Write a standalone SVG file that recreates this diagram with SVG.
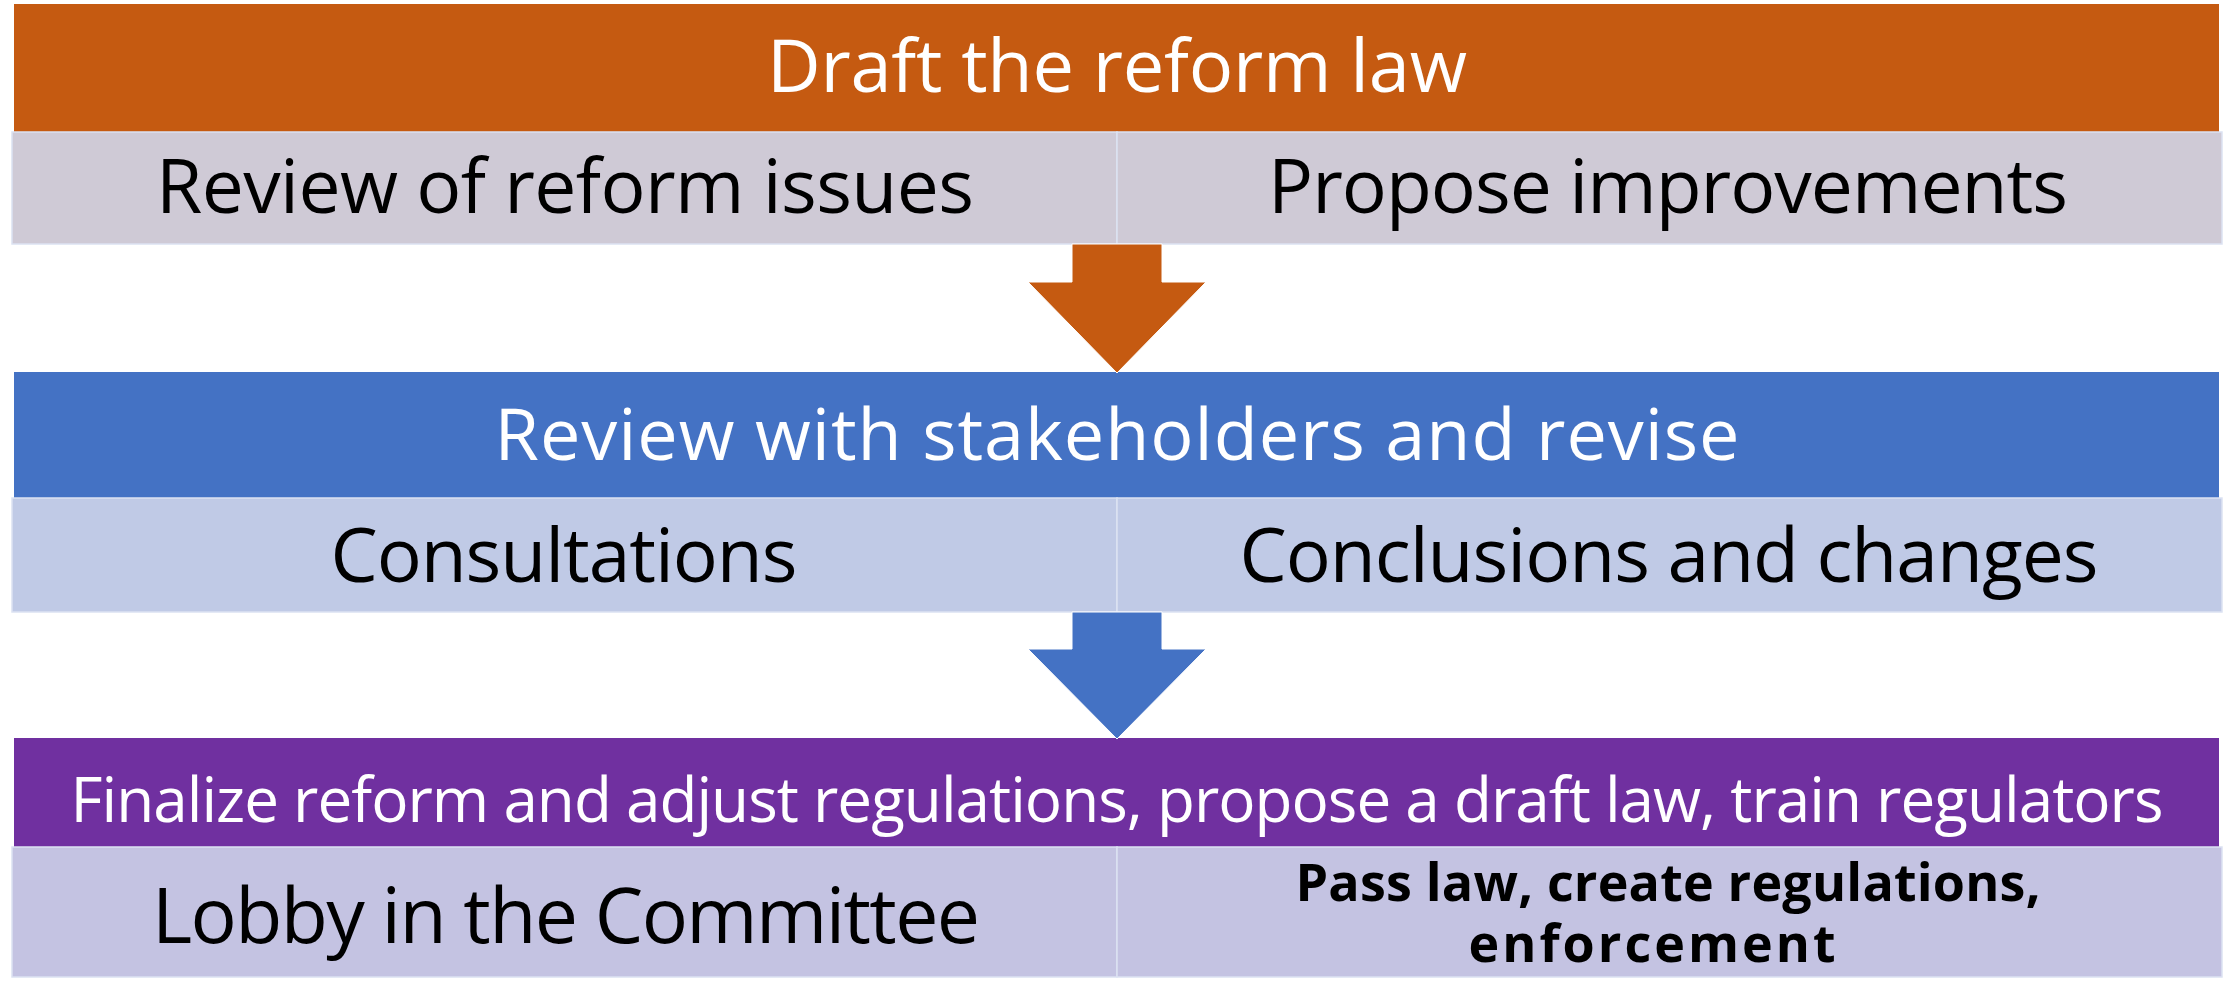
<svg xmlns="http://www.w3.org/2000/svg" width="2226" height="981" viewBox="0 0 2226 981">
  <style>
    .t { font-family: "Open Sans", "Noto Sans", "Liberation Sans", sans-serif; text-anchor: middle; }
    .head { fill: #FFFFFF; }
    .cell-t { fill: #000000; }
    .cell { stroke: #DCE2F2; stroke-width: 1.5; }
    .c1 { fill: #CFCAD6; }
    .c2 { fill: #C0CAE6; }
    .c3 { fill: #C4C3E2; }
    .bold { font-weight: 700; }
    .arrow { stroke: #FFFFFF; stroke-width: 1; }
  </style>
  <rect width="2226" height="981" fill="#FFFFFF"/>

  <!-- stage 1 -->
  <g id="draft-law">
    <rect x="14" y="4" width="2205" height="128" fill="#C55A11"/>
    <text class="t head" x="1117" y="92" font-size="74" textLength="700">Draft the reform law</text>
  </g>
  <g id="review-issues">
    <rect class="cell c1" x="12" y="132" width="1105" height="112"/>
    <text class="t cell-t" x="565" y="213" font-size="75" textLength="818">Review of reform issues</text>
  </g>
  <g id="propose-improvements">
    <rect class="cell c1" x="1117" y="132" width="1105" height="112"/>
    <text class="t cell-t" x="1668" y="213" font-size="75" textLength="800">Propose improvements</text>
  </g>

  <!-- stage 2 -->
  <g id="stakeholder-review">
    <rect x="14" y="372" width="2205" height="126" fill="#4472C4"/>
    <text class="t head" x="1117" y="460" font-size="72" textLength="1245">Review with stakeholders and revise</text>
  </g>
  <g id="consultations">
    <rect class="cell c2" x="12" y="498" width="1105" height="114"/>
    <text class="t cell-t" x="564" y="582" font-size="75" textLength="467">Consultations</text>
  </g>
  <g id="conclusions">
    <rect class="cell c2" x="1117" y="498" width="1105" height="114"/>
    <text class="t cell-t" x="1669" y="582" font-size="75" textLength="859">Conclusions and changes</text>
  </g>

  <!-- stage 3 -->
  <g id="finalize">
    <rect x="14" y="738" width="2205" height="109" fill="#7030A0"/>
    <text class="t head" x="1117" y="822" font-size="62" textLength="2093">Finalize reform and adjust regulations, propose a draft law, train regulators</text>
  </g>
  <g id="lobby">
    <rect class="cell c3" x="12" y="847" width="1105" height="130"/>
    <text class="t cell-t" x="566" y="943" font-size="77" textLength="828">Lobby in the Committee</text>
  </g>
  <g id="pass-law">
    <rect class="cell c3" x="1117" y="847" width="1105" height="130"/>
    <text class="t cell-t bold" x="1668" y="901" font-size="52" textLength="745">Pass law, create regulations,</text>
    <text class="t cell-t bold" x="1652" y="962" font-size="52" textLength="367">enforcement</text>
  </g>

  <!-- block arrows between stages -->
  <g id="connectors">
    <polygon class="arrow" fill="#C55A11" points="1072,244 1162,244 1162,282 1206,282 1117,373 1028,282 1072,282"/>
    <polygon class="arrow" fill="#4472C4" points="1072,612 1162,612 1162,649 1206,649 1117,739 1028,649 1072,649"/>
  </g>
</svg>
